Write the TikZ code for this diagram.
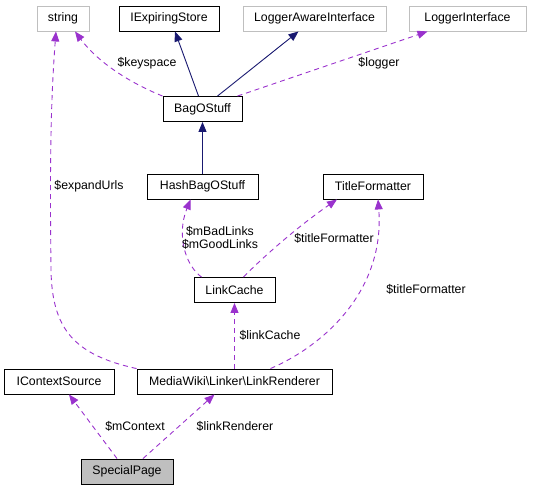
\documentclass[tikz,border=0pt]{standalone}
\usepackage{fontspec}
\setmainfont{Liberation Sans}
\usetikzlibrary{arrows.meta}
\definecolor{edgepurple}{HTML}{9A32CD}
\definecolor{edgenavy}{HTML}{191970}
\definecolor{extgray}{HTML}{BFBFBF}
\tikzset{
  cls/.style={draw=black, line width=0.9pt, minimum height=25pt, inner sep=0pt, font=\fontsize{12.3}{14}\selectfont, fill=white},
  ext/.style={cls, draw=extgray},
  cur/.style={cls, fill=extgray},
  usage/.style={draw=edgepurple, line width=0.9pt, dash pattern=on 5pt off 4pt, -{Triangle[length=10pt,width=8pt]}},
  inherit/.style={draw=edgenavy, line width=0.9pt, -{Triangle[length=10pt,width=8pt]}},
  lbl/.style={font=\fontsize{12.3}{13.5}\selectfont, inner sep=0pt, align=center},
}
\begin{document}
\begin{tikzpicture}[x=1pt,y=-1pt]
\useasboundingbox (0,0) rectangle (543,491);
% nodes
\node[ext, minimum width=52pt] (string) at (63,18.5) {string};
\node[cls, minimum width=100pt] (iexp) at (169,18.5) {IExpiringStore};
\node[ext, minimum width=143pt] (lai) at (314.5,18.5) {LoggerAwareInterface};
\node[ext, minimum width=117pt] (li) at (467.5,18.5) {LoggerInterface};
\node[cls, minimum width=79pt] (bag) at (202.5,109) {BagOStuff};
\node[cls, minimum width=111pt] (hash) at (202.5,186.5) {HashBagOStuff};
\node[cls, minimum width=100pt] (tf) at (373,186.5) {TitleFormatter};
\node[cls, minimum width=81pt] (lc) at (234.5,290) {LinkCache};
\node[cls, minimum width=110pt] (ics) at (59,381.5) {IContextSource};
\node[cls, minimum width=195pt] (lr) at (234.5,381.5) {MediaWiki\textbackslash Linker\textbackslash LinkRenderer};
\node[cur, minimum width=92pt] (sp) at (127,471.5) {SpecialPage};
% edges
\draw[usage] (bag.north west) .. controls (135,85) and (100,65) .. ([xshift=12pt]string.south);
\node[lbl] (l1) at (147,63) {\$keyspace};
\draw[inherit] ([xshift=-4pt]bag.north) -- ([xshift=6pt]iexp.south);
\draw[inherit] ([xshift=15pt]bag.north) -- ([xshift=-16pt]lai.south);
\draw[usage] ([xshift=35pt]bag.north) -- ([xshift=-40pt]li.south);
\node[lbl] (l2) at (379,63) {\$logger};
\draw[inherit] (hash.north) -- (bag.south);
\draw[usage] ([xshift=-33pt]lc.north) .. controls (186,266) and (176,236) .. ([xshift=-12pt]hash.south);
\node[lbl] (l3) at (220,238) {\$mBadLinks\\\$mGoodLinks};
\draw[usage] ([xshift=9pt]lc.north) .. controls (265,255) and (300,225) .. ([xshift=-36pt]tf.south);
\node[lbl] (l4) at (334,238) {\$titleFormatter};
\draw[usage] ([xshift=36pt]lr.north) .. controls (325,345) and (385,290) .. ([xshift=5pt]tf.south);
\node[lbl] (l5) at (426,289) {\$titleFormatter};
\draw[usage] (lr.north) -- (lc.south);
\node[lbl] (l6) at (270,335) {\$linkCache};
\draw[usage] (lr.north west) .. controls (75,355) and (52,330) .. (51,270) .. controls (50,180) and (50,110) .. ([xshift=-7pt]string.south);
\node[lbl] (l7) at (89,186) {\$expandUrls};
\draw[usage] ([xshift=-10pt]sp.north) -- ([xshift=10pt]ics.south);
\node[lbl] (l8) at (135,426) {\$mContext};
\draw[usage] ([xshift=16pt]sp.north) -- ([xshift=-20pt]lr.south);
\node[lbl] (l9) at (235,426) {\$linkRenderer};
\end{tikzpicture}
\end{document}
